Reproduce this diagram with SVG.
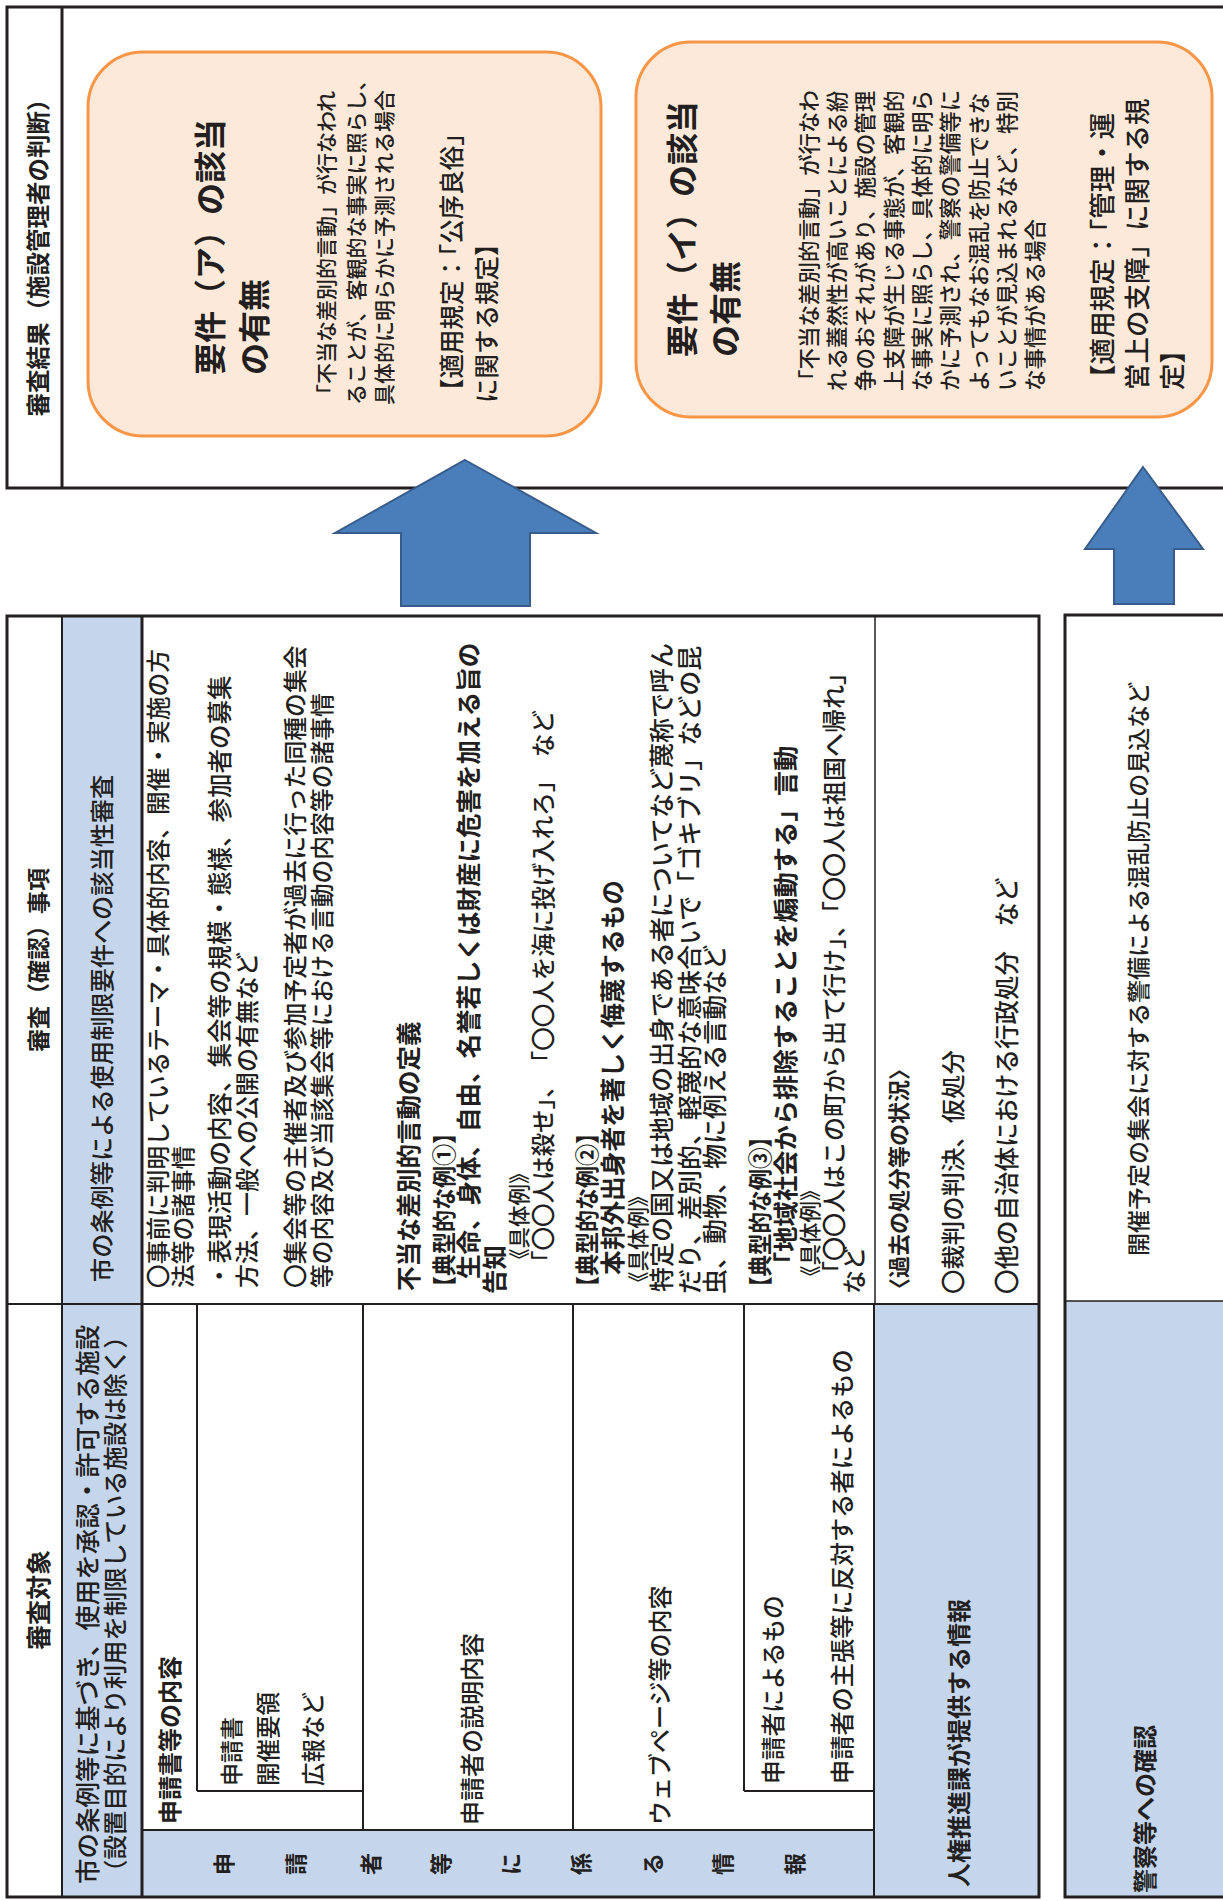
<svg xmlns="http://www.w3.org/2000/svg" width="1223" height="1901" viewBox="0 0 1223 1901">
<style>
.t{font-family:"Noto Sans CJK JP","Noto Sans",sans-serif;fill:#231F20;dominant-baseline:central;font-weight:500}
.b{font-weight:bold}
.m{text-anchor:middle}
.ln{stroke:#231F20;stroke-width:2;fill:none}
.th{stroke-width:3}
.tn{stroke-width:1.5}
.blue{fill:#C5D5EB}
.box{fill:#FDE9DA;stroke:#F79646;stroke-width:3}
.arrow{fill:#4A7EBB;stroke:#385D8A;stroke-width:2}
</style>
<rect width="1223" height="1901" fill="#ffffff"/>
<g transform="translate(0,1901) rotate(-90)">
  <g id="result-panel">
    <rect class="ln th" x="1413" y="7" width="481" height="1240"/>
    <line class="ln th" x1="1413" y1="62" x2="1894" y2="62"/>
    <text class="t b m" x="1649" y="37" font-size="23.5">審査結果（施設管理者の判断）</text>
  </g>
  <g id="node-requirement-a">
    <rect class="box" x="1465" y="88" width="384" height="513" rx="55"/>
    <text class="t b" x="1526" y="208" font-size="32">要件（ア）の該当</text>
    <text class="t b" x="1526" y="252" font-size="32">の有無</text>
    <text class="t" x="1496" y="325" font-size="21">「不当な差別的言動」が行なわれ</text>
    <text class="t" x="1496" y="355" font-size="21">ることが、客観的な事実に照らし、</text>
    <text class="t" x="1496" y="383" font-size="21">具体的に明らかに予測される場合</text>
    <text class="t" x="1498" y="450" font-size="24.5">【適用規定：「公序良俗」</text>
    <text class="t" x="1498" y="485" font-size="24.5">に関する規定】</text>
  </g>
  <g id="node-requirement-i">
    <rect class="box" x="1484" y="636" width="375" height="576" rx="55"/>
    <text class="t b" x="1544" y="680" font-size="32">要件（イ）の該当</text>
    <text class="t b" x="1544" y="723" font-size="32">の有無</text>
    <text class="t" x="1510" y="807" font-size="21.5">「不当な差別的言動」が行なわ</text>
    <text class="t" x="1510" y="835" font-size="21.5">れる蓋然性が高いことによる紛</text>
    <text class="t" x="1510" y="863" font-size="21.5">争のおそれがあり、施設の管理</text>
    <text class="t" x="1510" y="892" font-size="21.5">上支障が生じる事態が、客観的</text>
    <text class="t" x="1510" y="920" font-size="21.5">な事実に照らし、具体的に明ら</text>
    <text class="t" x="1510" y="948" font-size="21.5">かに予測され、警察の警備等に</text>
    <text class="t" x="1510" y="977" font-size="21.5">よってもなお混乱を防止できな</text>
    <text class="t" x="1510" y="1005" font-size="21.5">いことが見込まれるなど、特別</text>
    <text class="t" x="1510" y="1033" font-size="21.5">な事情がある場合</text>
    <text class="t" x="1510" y="1100" font-size="26.5">【適用規定：「管理・運</text>
    <text class="t" x="1511" y="1135" font-size="26.5">営上の支障」に関する規</text>
    <text class="t" x="1511" y="1170" font-size="26.5">定】</text>
  </g>
  <g id="node-review-table">
    <rect class="blue" x="597" y="62" width="688" height="80"/>
    <rect class="blue" x="4" y="62" width="593" height="80"/>
    <rect class="blue" x="4" y="142" width="67" height="732"/>
    <rect class="blue" x="4" y="874" width="593" height="165"/>
    <rect class="ln th" x="4" y="7" width="1281" height="1032"/>
    <line class="ln" x1="4" y1="62" x2="1285" y2="62"/>
    <line class="ln th" x1="4" y1="142" x2="1285" y2="142"/>
    <line class="ln" x1="597" y1="7" x2="597" y2="1039"/>
    <line class="ln tn" x1="597" y1="875" x2="1285" y2="875"/>
    <line class="ln" x1="4" y1="874" x2="597" y2="874"/>
    <line class="ln" x1="71" y1="142" x2="71" y2="874"/>
    <line class="ln" x1="71" y1="363" x2="597" y2="363"/>
    <line class="ln" x1="71" y1="573" x2="597" y2="573"/>
    <line class="ln" x1="110" y1="197" x2="597" y2="197"/>
    <line class="ln" x1="110" y1="197" x2="110" y2="363"/>
    <line class="ln" x1="110" y1="744" x2="597" y2="744"/>
    <line class="ln" x1="110" y1="744" x2="110" y2="874"/>
    <text class="t b m" x="941" y="37" font-size="23">審査（確認）事項</text>
    <text class="t b m" x="301" y="37" font-size="25">審査対象</text>
    <text class="t" x="619" y="100" font-size="24.2">市の条例等による使用制限要件への該当性審査</text>
    <text class="t" x="613" y="157" font-size="23.7">〇事前に判明しているテーマ・具体的内容、開催・実施の方</text>
    <text class="t" x="613" y="182" font-size="23.7">法等の諸事情</text>
    <text class="t" x="613" y="218" font-size="24.5">・表現活動の内容、集会等の規模・態様、参加者の募集</text>
    <text class="t" x="613" y="245" font-size="24">方法、一般への公開の有無など</text>
    <text class="t" x="613" y="293" font-size="23.8">〇集会等の主催者及び参加予定者が過去に行った同種の集会</text>
    <text class="t" x="613" y="320" font-size="23.8">等の内容及び当該集会等における言動の内容等の諸事情</text>
    <text class="t b" x="610" y="407" font-size="24.5">不当な差別的言動の定義</text>
    <text class="t b" x="603" y="442" font-size="24" textLength="176" lengthAdjust="spacingAndGlyphs">【典型的な例①】</text>
    <text class="t b" x="622" y="467" font-size="24.5">生命、身体、自由、名誉若しくは財産に危害を加える旨の</text>
    <text class="t b" x="607" y="493" font-size="24.5">告知</text>
    <text class="t" x="631" y="517" font-size="21.5">《具体例》</text>
    <text class="t" x="627" y="542" font-size="23.5">「〇〇人は殺せ」、　「〇〇人を海に投げ入れろ」　など</text>
    <text class="t b" x="603" y="585" font-size="24" textLength="176" lengthAdjust="spacingAndGlyphs">【典型的な例②】</text>
    <text class="t b" x="626" y="611" font-size="24.7">本邦外出身者を著しく侮蔑するもの</text>
    <text class="t" x="608" y="636" font-size="21.5">《具体例》</text>
    <text class="t" x="609" y="660" font-size="25">特定の国又は地域の出身である者についてなど蔑称で呼ん</text>
    <text class="t" x="607" y="688" font-size="25">だり、差別的、軽蔑的な意味合いで「ゴキブリ」などの昆</text>
    <text class="t" x="607" y="713" font-size="25">虫、動物、物に例える言動など</text>
    <text class="t b" x="603" y="758" font-size="24" textLength="172" lengthAdjust="spacingAndGlyphs">【典型的な例③】</text>
    <text class="t b" x="624" y="784" font-size="25.3">「地域社会から排除することを煽動する」言動</text>
    <text class="t" x="614" y="808" font-size="21.5">《具体例》</text>
    <text class="t" x="616" y="832" font-size="24">「〇〇人はこの町から出て行け」、「〇〇人は祖国へ帰れ」</text>
    <text class="t" x="607" y="852" font-size="24">など</text>
    <text class="t b" x="601" y="897" font-size="22">〈過去の処分等の状況〉</text>
    <text class="t" x="607" y="951" font-size="24.4">〇裁判の判決、仮処分</text>
    <text class="t" x="607" y="1005" font-size="24.5">〇他の自治体における行政処分　など</text>
    <text class="t" x="17" y="85" font-size="25.5">市の条例等に基づき、使用を承認・許可する施設</text>
    <text class="t" x="17" y="113" font-size="24.4">（設置目的により利用を制限している施設は除く）</text>
    <text class="t b" x="77" y="168" font-size="24">申請書等の内容</text>
    <text class="t" x="115" y="230" font-size="23">申請書</text>
    <text class="t" x="115" y="267" font-size="23.5">開催要領</text>
    <text class="t" x="115" y="312" font-size="23.5">広報など</text>
    <text class="t" x="76" y="470" font-size="24">申請者の説明内容</text>
    <text class="t" x="76" y="658" font-size="24">ウェブページ等の内容</text>
    <text class="t" x="117" y="772" font-size="23.7">申請者によるもの</text>
    <text class="t" x="117" y="840" font-size="24.2">申請者の主張等に反対する者によるもの</text>
    <text class="t b" x="14" y="957" font-size="24">人権推進課が提供する情報</text>
    <text class="t b m" x="37" y="222" font-size="22">申</text>
    <text class="t b m" x="37" y="294" font-size="22">請</text>
    <text class="t b m" x="37" y="369" font-size="22">者</text>
    <text class="t b m" x="37" y="439" font-size="22">等</text>
    <text class="t b m" x="37" y="509" font-size="22">に</text>
    <text class="t b m" x="37" y="579" font-size="22">係</text>
    <text class="t b m" x="37" y="651" font-size="22">る</text>
    <text class="t b m" x="37" y="721" font-size="22">情</text>
    <text class="t b m" x="37" y="793" font-size="22">報</text>
  </g>
  <g id="node-police-table">
    <rect class="blue" x="4" y="1065" width="596" height="200"/>
    <rect class="ln th" x="4" y="1065" width="1282" height="200"/>
    <line class="ln tn" x1="600" y1="1065" x2="600" y2="1265"/>
    <text class="t" x="645" y="1137" font-size="23">開催予定の集会に対する警備による混乱防止の見込など</text>
    <text class="t b" x="8" y="1143" font-size="24">警察等への確認</text>
  </g>
  <g id="connectors">
    <polygon class="arrow" points="1441,465 1368,596 1368,530 1295,530 1295,401 1368,401 1368,335"/>
    <polygon class="arrow" points="1434,1143 1352,1203 1352,1174 1297,1174 1297,1114 1352,1114 1352,1085"/>
  </g>
</g>
</svg>
